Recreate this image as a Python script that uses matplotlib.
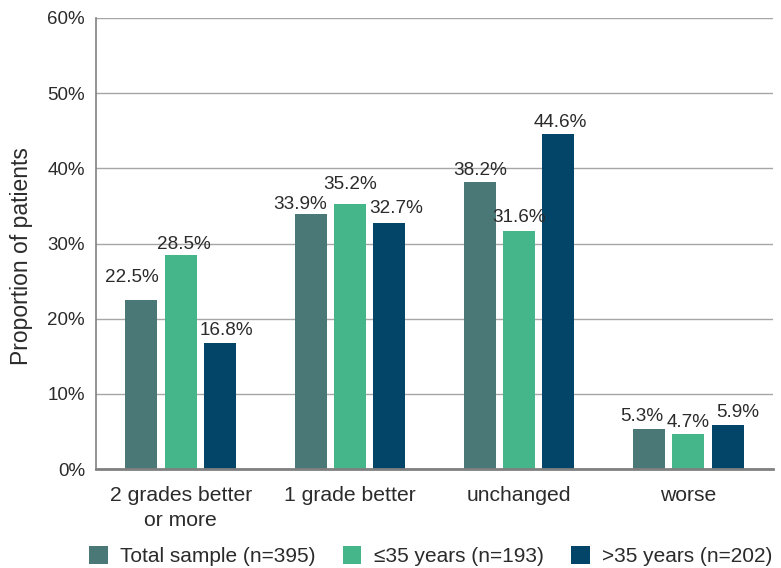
import matplotlib.pyplot as plt
import numpy as np

plt.rcParams['font.family'] = ['Liberation Sans', 'DejaVu Sans']

categories = ["2 grades better\nor more", "1 grade better", "unchanged", "worse"]
series_names = ["Total sample (n=395)", "≤35 years (n=193)", ">35 years (n=202)"]
total = [22.5, 33.9, 38.2, 5.3]
young = [28.5, 35.2, 31.6, 4.7]
older = [16.8, 32.7, 44.6, 5.9]
colors = ["#4a7876", "#45b689", "#034568"]

# nudges (pixels) for the value labels so neighbours don't collide
label_dx = [[-9, -10, 0, -7], [3, 0, 0, 0], [7, 7, 2, 10]]
label_dy = [[14, 1, 3, 4], [2, 11, 5, 3], [4, 6, 3, 4]]

fig = plt.figure(figsize=(7.81, 5.68), dpi=100)
ax = fig.add_axes([96 / 781, 1 - 469 / 568, 677 / 781, 451 / 568])

x = np.arange(len(categories))
width = 0.19
step = 0.232
text_col = "#2b2b2b"
for i, (vals, name, c) in enumerate(zip([total, young, older], series_names, colors)):
    pos = x + (i - 1) * step
    ax.bar(pos, vals, width, color=c, label=name, zorder=3)
    for j, (p, v) in enumerate(zip(pos, vals)):
        ax.annotate(f"{v}%", xy=(p, v), xytext=(label_dx[i][j], label_dy[i][j]),
                    textcoords="offset pixels", ha="center", va="bottom",
                    fontsize=13.6, color=text_col, zorder=5)

ax.set_xlim(-0.5, 3.5)
ax.set_ylim(0, 60)
ax.set_yticks(range(0, 61, 10))
ax.set_yticklabels([f"{t}%" for t in range(0, 61, 10)])
ax.set_xticks(x)
ax.set_xticklabels(categories, fontsize=15.2, color=text_col, linespacing=1.45)
ax.tick_params(axis="y", labelsize=13.5, labelcolor=text_col, length=0, pad=8)
ax.tick_params(axis="x", length=0, pad=12)
ax.yaxis.grid(True, color="#a6a6a6", linewidth=1.0, zorder=0)
for s in ["top", "right"]:
    ax.spines[s].set_visible(False)
ax.spines["left"].set_color("#808080")
ax.spines["left"].set_linewidth(1.2)
ax.spines["bottom"].set_color("#808080")
ax.spines["bottom"].set_linewidth(2.0)
ax.spines["bottom"].set_zorder(4)

fig.text(22 / 781, 1 - 256 / 568, "Proportion of patients", rotation=90,
         ha="center", va="center", fontsize=16.5, color=text_col)

fig.legend(loc="lower left", bbox_to_anchor=(70 / 781, -0.03), ncol=3, frameon=False,
           fontsize=15.0, handlelength=0.9, handleheight=0.9, columnspacing=1.3,
           handletextpad=0.6, labelcolor=text_col)

fig.savefig("out.png", dpi=100)
